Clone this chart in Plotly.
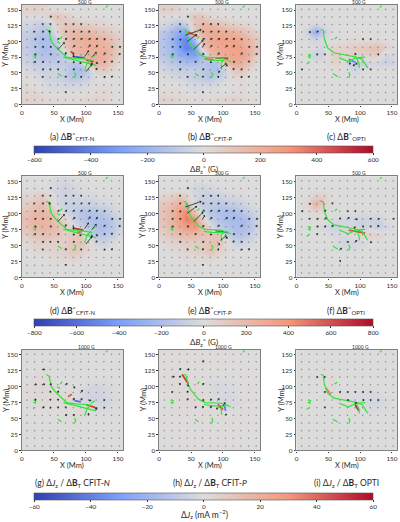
import math
import plotly.graph_objects as go

# Cell centres of the coarse field maps (Mm)
CELL_X0, CELL_DX = 6.08, 12.15
CELL_Y = [151, 139, 127, 115, 103, 91, 79, 67, 55, 43, 31, 19, 7]

# Row 1: delta Bz, upper boundary (G)
dBz_upper_N = [
    [50, 60, 40, 15, 0, 0, 0, 0, 0, 0, 0, 0, 0],
    [0, 0, 0, 50, 110, 60, 30, 0, 0, 0, 0, 0, 0],
    [-30, -50, -80, -60, 50, 100, 90, 70, 60, 50, 30, 15, 0],
    [-60, -80, -120, -110, 30, 130, 150, 150, 160, 120, 100, 60, 30],
    [-70, -110, -150, -150, -60, 120, 180, 190, 210, 210, 170, 130, 60],
    [-80, -100, -150, -150, -100, 90, 160, 180, 200, 200, 180, 150, 60],
    [-60, -110, -130, -130, -120, -80, 130, 190, 180, 200, 200, 150, 50],
    [-40, -80, -80, -90, -80, -80, -110, -100, 150, 200, 170, 90, 15],
    [-15, -40, -50, -50, -50, -70, -130, -160, -90, 60, 80, 30, 0],
    [0, 0, -30, -40, -50, -70, -110, -100, -60, 0, 0, 0, 0],
    [15, 0, 0, -30, -30, -40, -40, -30, -15, 0, 15, 0, 0],
    [30, 30, 15, 0, 0, 0, 0, 0, 0, 15, 30, 15, 0],
    [50, 50, 30, 15, 15, 15, 15, 15, 30, 50, 30, 15, 0],
]
dBz_upper_P = [
    [60, 60, 30, 0, 0, 0, 0, 0, 0, 0, 0, 0, 0],
    [0, 0, 0, 15, 110, 90, 30, 15, 0, 0, 0, 0, 0],
    [-30, -60, -120, -70, 90, 170, 170, 130, 90, 60, 40, 30, 0],
    [-90, -160, -240, -250, 100, 190, 210, 210, 210, 180, 150, 90, 40],
    [-120, -190, -300, -380, -170, 130, 220, 250, 250, 250, 220, 170, 90],
    [-120, -170, -280, -400, -330, 90, 190, 220, 240, 250, 250, 190, 100],
    [-100, -160, -220, -280, -290, -170, 150, 190, 220, 240, 250, 210, 70],
    [-60, -100, -130, -150, -160, -120, -130, -150, 160, 220, 210, 130, 30],
    [-30, -60, -70, -70, -70, -90, -130, -130, -60, 90, 120, 40, 0],
    [0, -15, -30, -40, -60, -90, -120, -70, -30, 15, 15, 0, 0],
    [0, 0, 0, -15, -30, -30, -30, -15, 0, 0, 15, 0, 0],
    [15, 15, 15, 0, 0, 0, 0, 0, 0, 15, 15, 0, 0],
    [50, 50, 30, 15, 15, 15, 15, 30, 30, 50, 30, 15, 0],
]
dBz_upper_O = [
    [0, 0, 0, 0, 0, 0, 0, 0, 0, 0, 0, 0, 0],
    [0, 0, 0, 0, 0, 0, 0, 0, 0, 0, 0, 0, 0],
    [0, 0, -30, -10, 0, 0, 0, 0, 0, 0, 0, 0, 0],
    [0, -50, -240, -60, 0, 0, 0, 0, 0, 0, 0, 0, 0],
    [0, -10, -40, -10, 0, 10, 10, 10, 10, 10, 10, 0, 0],
    [0, 0, -10, -30, 30, 40, 50, 80, 90, 110, 130, 60, 0],
    [0, -10, -60, -40, 50, 70, 40, 50, 60, 60, 70, -40, -20],
    [0, 0, 0, 0, 30, 40, -30, -80, -60, -30, -40, -60, -30],
    [0, 0, 0, 10, 10, 10, -10, -30, -10, 0, 0, 0, 0],
    [0, 0, 0, 0, 0, 0, 0, 0, 0, 0, 0, 0, 0],
    [0, 0, 0, 0, 0, 0, 0, 0, 0, 0, 0, 0, 0],
    [0, 0, 0, 0, 0, 0, 0, 0, 0, 0, 0, 0, 0],
    [0, 0, 0, 0, 0, 0, 0, 0, 0, 0, 0, 0, 0],
]

# Row 2: delta Bz, lower boundary (G)
dBz_lower_N = [
    [0, 0, 0, 0, -30, -40, -15, 0, 0, 0, 0, 0, 0],
    [0, 15, 0, 0, -40, -70, -40, -15, 0, 0, 0, 0, 0],
    [40, 60, 110, 30, -30, -60, -60, -40, -30, -15, 0, 0, 0],
    [80, 140, 170, 80, -30, -80, -80, -80, -70, -60, -40, -30, 0],
    [140, 190, 220, 190, 60, -60, -100, -140, -180, -150, -130, -60, -30],
    [170, 230, 230, 230, 130, 60, -70, -130, -180, -200, -170, -150, -60],
    [150, 220, 230, 220, 180, 80, 30, -80, -130, -180, -200, -150, -70],
    [80, 140, 170, 170, 140, 80, 130, 140, -80, -150, -140, -100, -30],
    [30, 70, 80, 80, 80, 80, 140, 150, 60, -60, -80, -30, 0],
    [0, 30, 40, 40, 60, 80, 140, 110, 40, 0, 0, 0, 0],
    [0, 0, 0, 15, 30, 40, 60, 30, 0, 0, 0, 0, 0],
    [0, 0, 0, 0, 0, 0, 0, 0, 0, 0, 0, 0, 0],
    [0, 0, 0, 0, 0, 0, 0, 0, 0, 0, 0, 0, 0],
]
dBz_lower_P = [
    [0, 0, 0, 0, 0, 0, 0, 0, 0, 0, 0, 0, 0],
    [0, 0, 0, -15, -40, -60, -40, -15, 0, 0, 0, 0, 0],
    [40, 70, 130, 60, -40, -70, -80, -70, -40, -30, -15, 0, 0],
    [110, 180, 250, 210, -30, -110, -110, -130, -110, -100, -70, -30, 0],
    [150, 230, 360, 440, 140, -70, -130, -180, -200, -200, -150, -100, -40],
    [150, 230, 340, 470, 420, 70, -100, -150, -200, -210, -210, -170, -70],
    [140, 210, 290, 370, 400, 220, 40, -100, -150, -200, -220, -180, -70],
    [70, 130, 170, 200, 210, 150, 140, 150, -60, -150, -170, -110, -30],
    [30, 70, 80, 100, 100, 100, 150, 170, 40, -60, -80, -40, 0],
    [0, 15, 40, 60, 70, 110, 170, 100, 30, 0, 0, 0, 0],
    [0, 0, 0, 15, 30, 30, 40, 15, 0, 0, 0, 0, 0],
    [0, 0, 0, 0, 0, 0, 0, 0, 0, 0, 0, 0, 0],
    [0, 0, 0, 0, 0, 0, 0, 0, 0, 0, 0, 0, 0],
]
dBz_lower_O = [
    [0, 0, 0, 0, 0, 0, 0, 0, 0, 0, 0, 0, 0],
    [0, 0, 0, 0, 0, 0, 0, 0, 0, 0, 0, 0, 0],
    [0, 0, 80, 60, 0, 0, 0, 0, 0, 0, 0, 0, 0],
    [0, 40, 240, 80, 15, 0, 0, 0, 0, 0, 0, 0, 0],
    [0, 15, 40, 15, 0, 0, 0, -15, -15, 0, 0, 0, 0],
    [0, 0, 15, 15, 0, -30, -40, -40, -60, -60, -80, -15, 0],
    [0, 0, -15, -30, -60, -60, -30, -40, -80, -30, -90, -40, 0],
    [0, 0, 0, 0, -15, -30, -15, 15, 60, 80, 60, 0, 0],
    [0, 0, 0, 0, 0, -30, -60, -40, -30, 0, 0, 0, 0],
    [0, 0, 0, 0, 0, -15, -15, -15, 0, 0, 0, 0, 0],
    [0, 0, 0, 0, 0, 0, 0, 0, 0, 0, 0, 0, 0],
    [0, 0, 0, 0, 0, 0, 0, 0, 0, 0, 0, 0, 0],
    [0, 0, 0, 0, 0, 0, 0, 0, 0, 0, 0, 0, 0],
]

# Row 3: delta Jz (mA m^-2)
dJz_N = [
    [0, 0, 0, 0, 0, 0, 0, 0, 0, 0, 0, 0, 0],
    [0, 0, 0, 0, 0, 0, 0, 0, 0, 0, 0, 0, 0],
    [0, 0, 1, 1, 0, 0, 0, 0, 0, 0, 0, 0, 0],
    [0, 1, 2, 1, 0, 0, 1, 0, 0, 0, 0, 0, 0],
    [1, 2, 2, 2, 1, -1, 0, 1, -2, -3, -2, -1, 0],
    [1, 2, 2, 2, 2, 1, 1, -1, -4, -4, -3, -2, 0],
    [1, 1, 2, 1, 1, 2, 1, -2, -3, -4, -4, -2, -1],
    [0, 1, 1, 1, 1, 1, 1, 1, 1, -2, -2, -1, 0],
    [0, 0, 0, 0, 0, 1, 1, 2, 0, 0, 0, 0, 0],
    [0, 0, 0, 0, 0, 0, 1, 0, 0, 0, 0, 0, 0],
    [0, 0, 0, 0, 0, 0, 0, 0, 0, 0, 0, 0, 0],
    [0, 0, 0, 0, 0, 0, 0, 0, 0, 0, 0, 0, 0],
    [0, 0, 0, 0, 0, 0, 0, 0, 0, 0, 0, 0, 0],
]
dJz_P = [
    [1, 1, 1, 0, 1, 0, 0, 1, 0, 1, 0, 0, 0],
    [1, 0, 1, 1, 0, 1, 1, 0, 1, 0, 1, 0, 0],
    [0, 1, 0, -1, 1, 1, 0, 1, 0, 0, 0, 1, 0],
    [1, 1, 1, -1, 1, 0, -1, -1, 0, 0, 1, 0, 0],
    [1, 1, 2, 1, 2, 0, -1, -2, -2, -1, 0, 1, 0],
    [0, 1, 2, 2, 2, 1, -1, -2, -2, -2, 1, 1, 0],
    [0, 1, 1, 2, 2, 1, -1, -2, -3, -2, -2, -1, 0],
    [0, 1, 1, 1, 1, 1, 1, 1, -1, -2, 1, 1, 0],
    [0, 0, 1, 1, 1, 1, 1, 1, 0, 1, 1, 0, 0],
    [1, 0, 0, 1, 1, 0, 1, 0, 1, 0, 0, 1, 0],
    [0, 1, 0, 0, 0, 1, 0, 1, 0, 1, 0, 0, 0],
    [0, 0, 1, 0, 1, 0, 0, 0, 1, 0, 0, 0, 0],
    [0, 0, 0, 1, 0, 0, 1, 0, 0, 0, 1, 0, 0],
]
dJz_O = [
    [0, 0, 0, 0, 0, 0, 0, 0, 0, 0, 0, 0, 0],
    [0, 0, 0, 0, 0, 0, 0, 0, 0, 0, 0, 0, 0],
    [0, 0, 0, 1, 0, 0, 0, 0, 0, 0, 0, 0, 0],
    [0, 0, -1, 1, 1, 0, 0, 0, 0, 0, 0, 0, 0],
    [0, 0, 0, 0, 1, 0, 0, 0, 0, 0, 0, 0, 0],
    [0, 0, 0, 0, 1, 1, 0, -1, -1, -2, -1, 0, 0],
    [0, 0, 0, 0, 0, 1, 1, -1, -2, -3, -3, -2, 0],
    [0, 0, 0, 0, 0, 0, 1, 1, -1, -2, -2, -1, 0],
    [0, 0, 0, 0, 0, 0, 0, 1, 0, 0, 0, 0, 0],
    [0, 0, 0, 0, 0, 0, 0, 0, 0, 0, 0, 0, 0],
    [0, 0, 0, 0, 0, 0, 0, 0, 0, 0, 0, 0, 0],
    [0, 0, 0, 0, 0, 0, 0, 0, 0, 0, 0, 0, 0],
    [0, 0, 0, 0, 0, 0, 0, 0, 0, 0, 0, 0, 0],
]

# Sampling nodes of the transverse-field vectors (Mm)
NODE_X = [8, 20, 32, 44, 56, 68, 80, 92, 104, 116, 128, 140, 152]
NODE_Y = [7, 19, 31, 43, 55, 67, 79, 91, 103, 115, 127, 139, 151]

# Transverse-field vectors: tail x, tail y, dx, dy
vectors_N = [
    (32, 127, 1, 1), (44, 127, 1, 1), (44, 139, 2, 1), (68, 127, 1, 1), (80, 127, 1, 1), (92, 127, 1, 1),
    (20, 115, -1, 1), (32, 115, 2, 1), (44, 113, -1, 5), (68, 115, 2, 1), (80, 115, 2, 1), (92, 115, 2, 1),
    (104, 115, 2, 1), (20, 103, 2, 1), (32, 103, 2, 1), (56, 103, 2, 2), (68, 103, 2, 2), (80, 103, 2, 2),
    (92, 103, 2, 2), (104, 103, 3, 2), (116, 103, 2, 2), (128, 103, 2, 1), (152, 91, 2, 1), (20, 91, 2, 1),
    (32, 91, 2, 1), (44, 91, 2, 1), (56, 87, 14, 15), (80, 91, 3, 3), (104, 91, 3, 4), (116, 91, 2, 3),
    (140, 91, 2, 1), (20, 79, 2, 1), (44, 79, 2, 1), (68, 79, 1, 4), (80, 82, 1, -8), (98, 76, 8, 12),
    (110, 76, 8, 9), (128, 79, 2, 3), (152, 79, 1, 2), (32, 67, 2, 1), (56, 67, 2, 1), (92, 67, -1, -2),
    (108, 67, 2, -4), (116, 67, 2, -2), (140, 67, 1, 2), (32, 55, 2, 1), (80, 55, 2, 1), (100, 52, 12, 15),
    (116, 55, 1, 2), (32, 43, 1, 1), (68, 43, 1, 2), (92, 43, 1, 1), (128, 43, 2, 1), (140, 43, 1, 2),
    (68, 19, 1, 1), (20, 67, 1, 1), (44, 55, 1, 1), (56, 55, 1, 1), (128, 67, 2, 1), (80, 67, 2, 0),
]
vectors_P = [
    (32, 127, 1, 1), (44, 139, 2, 1), (68, 127, 2, 1), (80, 127, 2, 1), (92, 127, 1, 1), (41, 110, 34, 12),
    (44, 100, 20, 15), (54, 87, 20, 20), (32, 115, 2, 1), (68, 115, 2, 1), (80, 115, 3, 1), (92, 115, 2, 1),
    (104, 115, 2, 1), (20, 103, 2, 1), (32, 103, 2, 0), (68, 103, 3, 2), (80, 103, 3, 2), (92, 103, 3, 2),
    (104, 103, 3, 2), (116, 103, 2, 2), (128, 103, 2, 1), (152, 91, 2, 1), (20, 91, 2, 1), (32, 91, 2, 1),
    (68, 91, 4, 7), (80, 91, 3, 3), (104, 91, 3, 3), (116, 91, 2, 3), (140, 91, 2, 1), (20, 79, 2, 1),
    (44, 79, 2, 1), (68, 79, 2, 2), (92, 79, 2, 3), (128, 79, 2, 3), (152, 79, 1, 2), (32, 67, 2, 1),
    (56, 67, 2, 1), (80, 67, 2, 0), (104, 60, 3, 3), (96, 58, 12, 9), (116, 67, 2, 1), (140, 67, 1, 2),
    (32, 55, 2, 1), (68, 55, 2, 1), (92, 50, 3, 3), (116, 55, 1, 2), (128, 55, 2, 1), (44, 43, 1, 1),
    (68, 43, 1, 2), (92, 43, 1, 1), (128, 43, 2, 1), (140, 43, 1, 2), (68, 19, 1, 1),
]
vectors_c = [
    (20, 115, 2, 0), (32, 115, 2, 1), (32, 79, 1, 1), (44, 79, 1, 1), (8, 55, 1, 1), (92, 79, 1, 2), (84, 68, 0, -5),
    (92, 64, -3, -3), (96, 66, -3, -2), (104, 103, 1, 1), (116, 103, 1, 1), (128, 79, 1, 1), (116, 55, 1, 1),
    (104, 55, 1, 1),
]
vectors_f = [
    (8, 103, 2, 1), (20, 115, 2, 0), (32, 91, 2, 1), (44, 103, 2, 2), (44, 91, 3, 2), (44, 79, 2, 1), (32, 79, 2, 1),
    (56, 115, 1, 1), (32, 67, 1, 1), (20, 91, 1, 1), (56, 79, 1, 2), (68, 91, 1, 2), (80, 91, 3, 3), (80, 103, 1, 1),
    (92, 91, 4, 0), (92, 103, 1, 1), (128, 91, 2, 1), (116, 91, 1, 1), (116, 79, 1, 1), (128, 79, 1, 2), (92, 55, 3, 3),
    (68, 43, 3, 3), (80, 55, 1, 1), (116, 55, 2, 0), (104, 79, 1, 1), (68, 25, 1, 1), (92, 79, -1, -2), (152, 91, 1, 1),
]
vectors_g = [
    (32, 127, 4, 0), (20, 103, 3, 1), (32, 103, 4, 1), (44, 103, 2, 1), (68, 103, 3, 2), (80, 100, 3, -2),
    (92, 91, 3, 4), (56, 91, 1, 2), (44, 91, 1, 2), (20, 79, 2, 1), (32, 67, 3, 1), (44, 79, 1, 1), (56, 79, 1, 1),
    (68, 67, 1, 1), (80, 79, 2, 3), (92, 79, 2, 2), (104, 79, 4, -1), (116, 67, 0, -3), (44, 67, 1, 0), (56, 67, 1, 1),
    (68, 55, 2, 1), (80, 55, 2, 1), (104, 55, 0, 3), (128, 67, 1, 0), (128, 79, 1, 0),
]
vectors_h = [
    (20, 115, 4, 1), (32, 127, 2, 1), (32, 115, 1, 1), (44, 127, 3, 0), (68, 139, 2, 1), (32, 103, 1, 2), (44, 103, 2, -2),
    (20, 91, 1, 1), (44, 91, 1, 2), (44, 79, 1, 2), (68, 79, 2, 0), (56, 67, 2, 1), (68, 67, 1, 2), (80, 79, 2, 1),
    (80, 67, 2, 2), (92, 79, 2, 2), (100, 70, 4, 6), (92, 67, -2, -2), (104, 55, 1, 2), (68, 103, 2, 2),
]
vectors_i = [
    (32, 115, 1, 0), (44, 115, 1, 0), (44, 91, 1, 1), (68, 91, 1, 1), (80, 91, 1, 1), (92, 91, 1, 1), (104, 91, 1, 1),
    (116, 91, 1, 1), (44, 67, 1, 1), (80, 79, 2, 0), (92, 76, 2, -2), (104, 79, 2, 0), (116, 79, 1, 0), (128, 79, 1, 0),
]

# Polarity-inversion-line traces (Mm); None separates the pieces
PIL_X_N = [38, 42, 44, 46, 54, 62, 70, 85, 100, 110, None, 65, 85, 100, 116, None, 98, 102, 108, None, 18, 22, 21, 18, None,
           18, 19, None, 60, 63, None, 131, 134, None, 56, 62, None, 82, 84, 82, None, 108, 114, None, 55, 60]
PIL_Y_N = [119, 117, 110, 100, 90, 82, 75, 73, 72, 70, None, 75, 70, 67, 62, None, 54, 66, 72, None, 79, 78, 74, 76, None,
           65, 68, None, 104, 108, None, 154, 157, None, 49, 45, None, 42, 47, 51, None, 74, 78, None, 100, 97]
PIL_X_P = [38, 42, 46, 49, 55, 62, 72, 85, 97, 106, 112, None, 98, 97, 103, None, 70, 85, 100, None, 18, 22, 21, 18, None,
           60, 63, None, 131, 134, None, 56, 62, None, 82, 84, 82]
PIL_Y_P = [119, 118, 103, 96, 88, 80, 75, 75, 74, 71, 68, None, 56, 66, 72, None, 72, 70, 70, None, 79, 78, 74, 76, None,
           104, 108, None, 154, 157, None, 49, 45, None, 42, 47, 51]
PIL_X_O = [38, 42, 44, 49, 59, 75, 90, 103, 108, 112, None, 67, 82, 93, 108, None, 93, 98, 99, None, 18, 22, 21, 18, None,
           16, 20, None, 60, 64, None, 131, 134, None, 57, 65, None, 82, 84, 82]
PIL_Y_O = [119, 118, 103, 90, 82, 79, 76, 72, 63, 58, None, 74, 68, 74, 75, None, 76, 66, 58, None, 79, 78, 74, 76, None,
           64, 67, None, 104, 107, None, 154, 157, None, 49, 44, None, 42, 47, 51]

# Narrow residuals along the inversion line: colour, x list, y list
core_a = [("#d8402f", [76, 82], [84, 80]), ("#3f5cd0", [80, 98], [76, 74]), ("#cf3a2a", [100, 112], [71, 68])]
core_b = [("#c9302a", [88, 108], [74, 73]), ("#d8402f", [72, 85], [72, 71]), ("#e2553a", [45, 60], [115, 108])]
core_c = [("#5f85ea", [82, 92], [72, 67])]
core_d = [("#c9302a", [80, 96], [77, 74]), ("#e0604a", [86, 94], [70, 72])]
core_e = [("#4f6fdc", [88, 108], [73, 70]), ("#6f8ff0", [42, 47], [115, 108])]
core_f = [("#d8504a", [82, 108], [74, 69]), ("#f09a80", [36, 42], [120, 118])]
core_g = [("#e0604a", [72, 78], [84, 88]), ("#4f6fdc", [82, 92], [78, 76]), ("#cf3a2a", [100, 118], [72, 66])]
core_h = [("#cf3a2a", [36, 46], [119, 104]), ("#cf3a2a", [92, 100], [72, 64]), ("#5f85ea", [104, 102], [62, 72])]
core_i = [("#c9302a", [92, 98], [72, 62]), ("#e88068", [46, 54], [98, 88])]

# Colour-bar ranges and ticks
BZ_UPPER_TICKS = [-600, -400, -200, 0, 200, 400, 600]
BZ_LOWER_TICKS = [-800, -600, -400, -200, 0, 200, 400, 600, 800]
JZ_TICKS = [-60, -40, -20, 0, 20, 40, 60]
X_TICKS = [0, 50, 100, 150]
Y_TICKS = [0, 25, 50, 75, 100, 125, 150]

FONT = "Lato"
INK = "#2a2a2a"
COOLWARM = [[0, "#2f40b0"], [0.25, "#7b9ff9"], [0.5, "#dddcdc"], [0.75, "#f4987a"], [1, "#b00a28"]]
W, H = 400, 522
COLS = [(20, 122), (158.3, 260), (296.7, 398)]
ROWS = [(5, 105), (177.3, 279), (351.7, 453)]
AXIS_MAX = 158
QUIVER_SCALE = 0.7  # Mm drawn per unit of the vector tables

panels = [
    (0, 0, dBz_upper_N, vectors_N, PIL_X_N, PIL_Y_N, core_a, "coloraxis", "500 G"),
    (0, 1, dBz_upper_P, vectors_P, PIL_X_P, PIL_Y_P, core_b, "coloraxis", "500 G"),
    (0, 2, dBz_upper_O, vectors_c, PIL_X_O, PIL_Y_O, core_c, "coloraxis", "500 G"),
    (1, 0, dBz_lower_N, vectors_N, PIL_X_N, PIL_Y_N, core_d, "coloraxis2", "500 G"),
    (1, 1, dBz_lower_P, vectors_P, PIL_X_P, PIL_Y_P, core_e, "coloraxis2", "500 G"),
    (1, 2, dBz_lower_O, vectors_f, PIL_X_O, PIL_Y_O, core_f, "coloraxis2", "500 G"),
    (2, 0, dJz_N, vectors_g, PIL_X_N, PIL_Y_N, core_g, "coloraxis3", "1000 G"),
    (2, 1, dJz_P, vectors_h, PIL_X_P, PIL_Y_P, core_h, "coloraxis3", "1000 G"),
    (2, 2, dJz_O, vectors_i, PIL_X_O, PIL_Y_O, core_i, "coloraxis3", "1000 G"),
]

CAPTIONS = [
    ("(a) Δ<b>B</b><sup>></sup><sub>CFIT-N</sub>", 71, 137), ("(b) Δ<b>B</b><sup>></sup><sub>CFIT-P</sub>", 210, 137),
    ("(c) Δ<b>B</b><sup>></sup><sub>OPTI</sub>", 347, 137),
    ("(d) Δ<b>B</b><sup><</sup><sub>CFIT-N</sub>", 71, 312), ("(e) Δ<b>B</b><sup><</sup><sub>CFIT-P</sub>", 210, 312),
    ("(f) Δ<b>B</b><sup><</sup><sub>OPTI</sub>", 347, 312),
    ("(g) Δ<i>J</i><sub>z</sub> / Δ<b>B</b><sub>T</sub> CFIT-<i>N</i>", 71, 486),
    ("(h) Δ<i>J</i><sub>z</sub> / Δ<b>B</b><sub>T</sub> CFIT-<i>P</i>", 210, 486),
    ("(i) Δ<i>J</i><sub>z</sub> / Δ<b>B</b><sub>T</sub> OPTI", 347, 486),
]

fig = go.Figure()
annotations = []


def paper_note(text, px, py, size, angle=0, anchor="center"):
    annotations.append(dict(text=text, x=px / W, y=1 - py / H, xref="paper", yref="paper", showarrow=False,
                            font=dict(family=FONT, size=size, color=INK), textangle=angle,
                            xanchor=anchor, yanchor="middle"))


layout_axes = {}
for n, (r, c, field, vectors, pil_x, pil_y, core, cax, key) in enumerate(panels, start=1):
    xa, ya = ("x", "y") if n == 1 else (f"x{n}", f"y{n}")
    fig.add_heatmap(z=field, x0=CELL_X0, dx=CELL_DX, y=CELL_Y, coloraxis=cax, zsmooth="best",
                    xaxis=xa, yaxis=ya, hoverinfo="skip")
    # regular sampling nodes
    gx = [x for _ in NODE_Y for x in NODE_X]
    gy = [y for y in NODE_Y for _ in NODE_X]
    fig.add_scatter(x=gx, y=gy, mode="markers", marker=dict(size=1.5, color="#8a8a86"),
                    xaxis=xa, yaxis=ya, hoverinfo="skip", showlegend=False)
    for colour, cx, cy in core:
        fig.add_scatter(x=cx, y=cy, mode="lines", line=dict(color=colour, width=1.8),
                        xaxis=xa, yaxis=ya, hoverinfo="skip", showlegend=False)
    fig.add_scatter(x=pil_x, y=pil_y, mode="lines", line=dict(color="#35e23c", width=1.2),
                    xaxis=xa, yaxis=ya, hoverinfo="skip", showlegend=False)
    # vector shafts and heads
    sx, sy, hx, hy, ha = [], [], [], [], []
    for x, y, dx, dy in vectors:
        tip_x, tip_y = x + dx * QUIVER_SCALE, y + dy * QUIVER_SCALE
        sx += [x, tip_x, None]
        sy += [y, tip_y, None]
        hx.append(tip_x)
        hy.append(tip_y)
        ha.append(math.degrees(math.atan2(dx, dy)))
    fig.add_scatter(x=sx, y=sy, mode="lines", line=dict(color="#163026", width=0.8),
                    xaxis=xa, yaxis=ya, hoverinfo="skip", showlegend=False)
    fig.add_scatter(x=hx, y=hy, mode="markers",
                    marker=dict(symbol="triangle-up", size=2.4, color="#163026", angle=ha),
                    xaxis=xa, yaxis=ya, hoverinfo="skip", showlegend=False)
    # quiver key above the frame
    fig.add_scatter(x=[65, 80], y=[162.5, 162.5], mode="lines+markers", cliponaxis=False,
                    line=dict(color="#2a6b3c", width=1.6),
                    marker=dict(symbol="triangle-right", size=[0, 3.5], color="#163026"),
                    xaxis=xa, yaxis=ya, hoverinfo="skip", showlegend=False)
    x0, x1 = COLS[c]
    y0, y1 = ROWS[r]
    paper_note(key, x0 + 84 * (x1 - x0) / AXIS_MAX, y0 - 3, 5, anchor="left")
    common = dict(range=[0, AXIS_MAX], showgrid=False, zeroline=False, showline=True, mirror=True,
                  linecolor="#808080", linewidth=1.4, ticks="outside", ticklen=1.5, tickwidth=0.6, tickcolor="#333333",
                  tickfont=dict(family=FONT, size=6.3, color=INK))
    layout_axes["xaxis" + ("" if n == 1 else str(n))] = dict(
        common, domain=[x0 / W, x1 / W], tickvals=X_TICKS, anchor=ya)
    layout_axes["yaxis" + ("" if n == 1 else str(n))] = dict(
        common, domain=[1 - y1 / H, 1 - y0 / H], tickvals=Y_TICKS, anchor=xa)
    paper_note("X (Mm)", (x0 + x1) / 2, y1 + 15, 7.5)
    paper_note("Y (Mm)", x0 - 16, (y0 + y1) / 2, 7.5, angle=-90)

for text, px, py in CAPTIONS:
    paper_note(text, px, py, 8.5)

paper_note("Δ<i>B</i><sub>z</sub><sup>></sup> (G)", 204, 170, 8)
paper_note("Δ<i>B</i><sub>z</sub><sup><</sup> (G)", 204, 344, 8)
paper_note("Δ<i>J</i><sub>z</sub> (mA m<sup>−2</sup>)", 204, 517, 8.5)


def colourbar(top, ticks):
    return dict(orientation="h", x=203.3 / W, xanchor="center", y=1 - top / H, yanchor="top", yref="paper",
                len=342 / W, thickness=7, outlinecolor="#555555", outlinewidth=0.6, xpad=0, ypad=0,
                tickvals=ticks, ticks="outside", ticklen=2, tickwidth=0.6, tickcolor="#333333",
                tickfont=dict(family=FONT, size=6.3, color=INK))


fig.update_layout(
    width=W, height=H, margin=dict(l=0, r=0, t=0, b=0), paper_bgcolor="white", plot_bgcolor="#dddcdc",
    showlegend=False, annotations=annotations,
    coloraxis=dict(colorscale=COOLWARM, cmin=-600, cmax=600, colorbar=colourbar(147, BZ_UPPER_TICKS)),
    coloraxis2=dict(colorscale=COOLWARM, cmin=-800, cmax=800, colorbar=colourbar(321, BZ_LOWER_TICKS)),
    coloraxis3=dict(colorscale=COOLWARM, cmin=-60, cmax=60, colorbar=colourbar(495.5, JZ_TICKS)),
    **layout_axes,
)
fig.write_html("out.html", config=dict(displayModeBar=False))
